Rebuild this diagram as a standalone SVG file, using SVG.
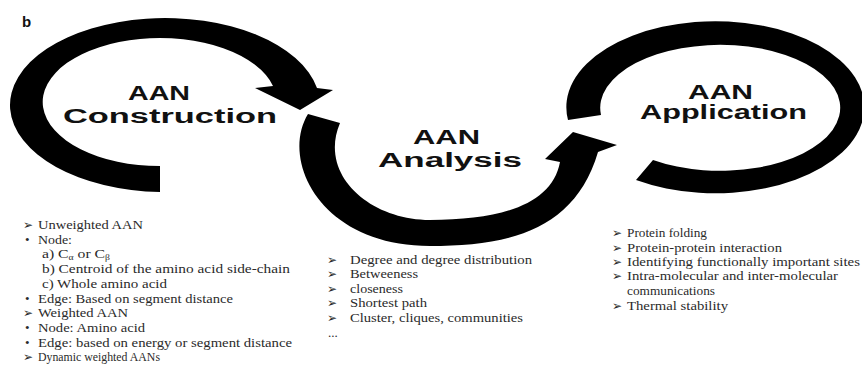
<svg xmlns="http://www.w3.org/2000/svg" width="862" height="370" viewBox="0 0 862 370">
<style>
.arc{fill:#000;stroke:none}
.hd{font-family:"Liberation Sans",Arial,sans-serif;font-weight:bold;fill:#111;font-size:20px}
.bd{font-family:"Liberation Serif","Times New Roman",serif;font-size:13px;fill:#2a2a2a}
.bl{font-family:"DejaVu Sans",sans-serif;font-size:12px;fill:#2a2a2a}
.sb{font-size:8px}
</style>
<rect width="862" height="370" fill="#fff"/>
<text x="22" y="27" class="hd" font-size="15" style="font-size:15px">b</text>

<g id="connectors">
  <path id="arc-construction" class="arc" d="M160 192 A155 87 0 1 1 317 88 L333 90 L300 110 L255 88 L273 86 A117 64 0 1 0 160 166 Z"/>
  <path id="arc-analysis" class="arc" d="M308 114 C280 160 320 246 430 246 C510 246 575 230 598 152 L617 145 L573 132 L545 159 L560 162 C552 205 500 220 430 220 C370 220 318 175 340 123 Z"/>
  <path id="arc-application" class="arc" d="M568 120 A149 86 0 1 1 636 180 L653 160 A120 63 0 1 0 601 115 Z"/>
</g>

<g id="node-construction">
  <text x="128" y="100" class="hd" textLength="62" lengthAdjust="spacingAndGlyphs">AAN</text>
  <text x="63" y="123" class="hd" textLength="214" lengthAdjust="spacingAndGlyphs">Construction</text>
</g>
<g id="node-analysis">
  <text x="413" y="144" class="hd" textLength="67" lengthAdjust="spacingAndGlyphs">AAN</text>
  <text x="378" y="167" class="hd" textLength="144" lengthAdjust="spacingAndGlyphs">Analysis</text>
</g>
<g id="node-application">
  <text x="688" y="99" class="hd" textLength="65" lengthAdjust="spacingAndGlyphs">AAN</text>
  <text x="640" y="119" class="hd" textLength="167" lengthAdjust="spacingAndGlyphs">Application</text>
</g>

<g id="list-construction">
  <text x="23" y="229" class="bl">➢</text>
  <text x="38" y="229" class="bd" textLength="105" lengthAdjust="spacingAndGlyphs">Unweighted AAN</text>
  <text x="25" y="244" class="bd">•</text>
  <text x="38" y="244" class="bd" textLength="34" lengthAdjust="spacingAndGlyphs">Node:</text>
  <text x="42" y="258" class="bd" textLength="68" lengthAdjust="spacingAndGlyphs">a)  C<tspan class="sb" dy="2">α</tspan><tspan dy="-2"> or C</tspan><tspan class="sb" dy="2">β</tspan></text>
  <text x="42" y="273" class="bd" textLength="248" lengthAdjust="spacingAndGlyphs">b)  Centroid of the amino acid side-chain</text>
  <text x="42" y="288" class="bd" textLength="125" lengthAdjust="spacingAndGlyphs">c)  Whole amino acid</text>
  <text x="25" y="303" class="bd">•</text>
  <text x="38" y="303" class="bd" textLength="195" lengthAdjust="spacingAndGlyphs">Edge: Based on segment distance</text>
  <text x="23" y="317" class="bl">➢</text>
  <text x="38" y="317" class="bd" textLength="90" lengthAdjust="spacingAndGlyphs">Weighted AAN</text>
  <text x="25" y="332" class="bd">•</text>
  <text x="38" y="332" class="bd" textLength="107" lengthAdjust="spacingAndGlyphs">Node: Amino acid</text>
  <text x="25" y="347" class="bd">•</text>
  <text x="38" y="347" class="bd" textLength="254" lengthAdjust="spacingAndGlyphs">Edge: based on energy or segment distance</text>
  <text x="23" y="361" class="bl">➢</text>
  <text x="38" y="361" class="bd" textLength="122" lengthAdjust="spacingAndGlyphs">Dynamic weighted AANs</text>
</g>

<g id="list-analysis">
  <text x="327" y="264" class="bl">➢</text>
  <text x="350" y="264" class="bd" textLength="182" lengthAdjust="spacingAndGlyphs">Degree and degree distribution</text>
  <text x="327" y="278" class="bl">➢</text>
  <text x="350" y="278" class="bd" textLength="68" lengthAdjust="spacingAndGlyphs">Betweeness</text>
  <text x="327" y="293" class="bl">➢</text>
  <text x="350" y="293" class="bd" textLength="53" lengthAdjust="spacingAndGlyphs">closeness</text>
  <text x="327" y="307" class="bl">➢</text>
  <text x="350" y="307" class="bd" textLength="77" lengthAdjust="spacingAndGlyphs">Shortest path</text>
  <text x="327" y="322" class="bl">➢</text>
  <text x="350" y="322" class="bd" textLength="173" lengthAdjust="spacingAndGlyphs">Cluster, cliques, communities</text>
  <text x="328" y="337" class="bd">...</text>
</g>

<g id="list-application">
  <text x="612" y="237" class="bl">➢</text>
  <text x="627" y="237" class="bd" textLength="80" lengthAdjust="spacingAndGlyphs">Protein folding</text>
  <text x="612" y="252" class="bl">➢</text>
  <text x="627" y="252" class="bd" textLength="155" lengthAdjust="spacingAndGlyphs">Protein-protein interaction</text>
  <text x="612" y="266" class="bl">➢</text>
  <text x="627" y="266" class="bd" textLength="233" lengthAdjust="spacingAndGlyphs">Identifying functionally important sites</text>
  <text x="612" y="280" class="bl">➢</text>
  <text x="627" y="280" class="bd" textLength="211" lengthAdjust="spacingAndGlyphs">Intra-molecular and inter-molecular</text>
  <text x="627" y="295" class="bd" textLength="88" lengthAdjust="spacingAndGlyphs">communications</text>
  <text x="612" y="310" class="bl">➢</text>
  <text x="627" y="310" class="bd" textLength="101" lengthAdjust="spacingAndGlyphs">Thermal stability</text>
</g>
</svg>
